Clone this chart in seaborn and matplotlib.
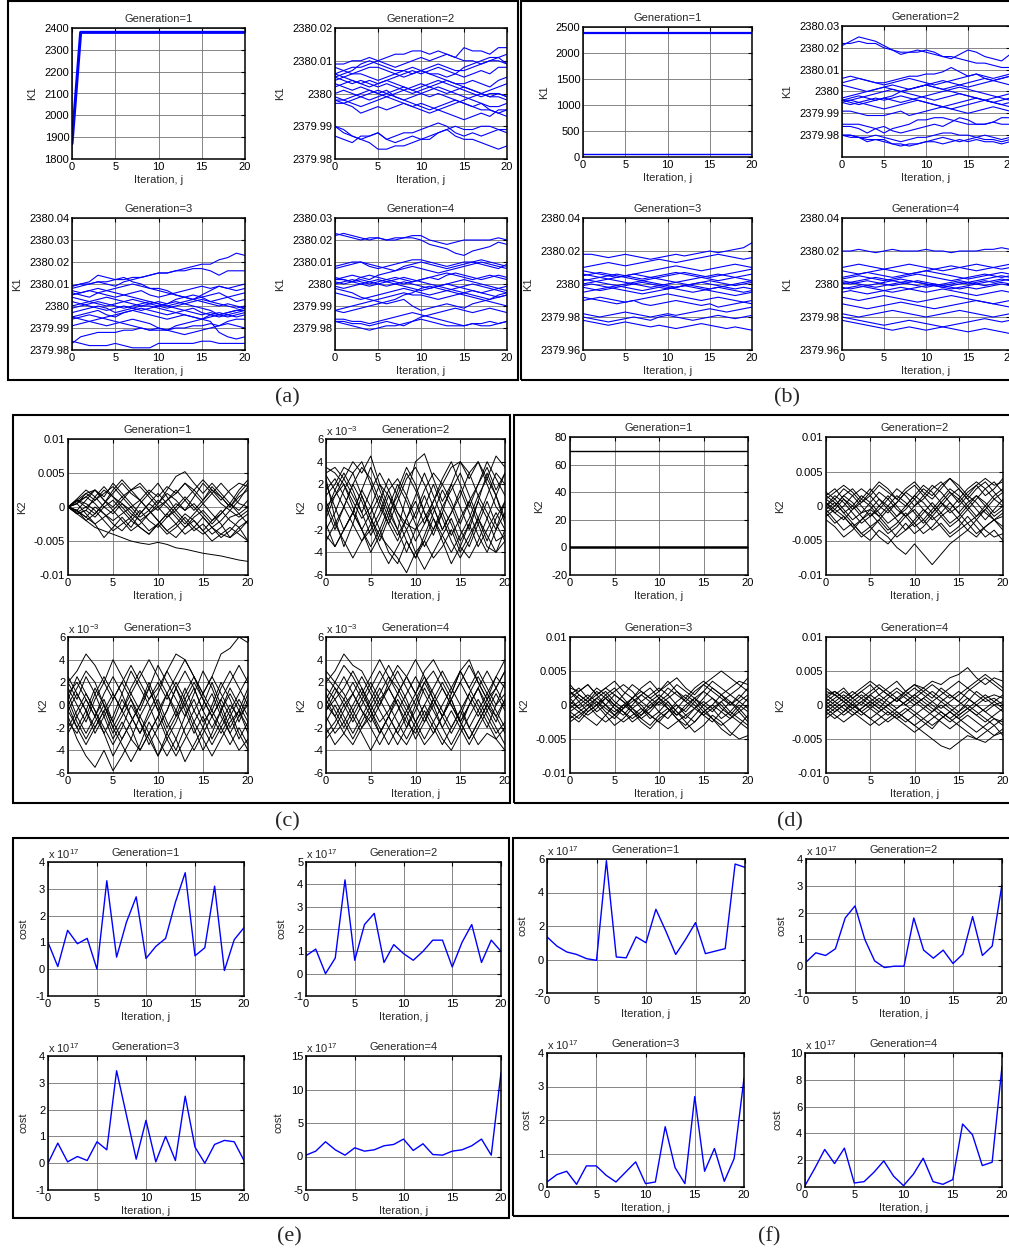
import matplotlib
matplotlib.use("Agg")
import matplotlib.pyplot as plt
from matplotlib.patches import Rectangle
import seaborn as sns
import pandas as pd

sns.set_theme(context="paper", style="white")
plt.rcParams["font.family"] = ["Liberation Sans", "DejaVu Sans"]
plt.rcParams["mathtext.fontset"] = "custom"
plt.rcParams["mathtext.rm"] = "Liberation Sans"
plt.rcParams["mathtext.default"] = "regular"
plt.rcParams["axes.unicode_minus"] = False

# ---------------- data ----------------
ITER = list(range(21))
XTICKS = [0, 5, 10, 15, 20]
TITLES = ["Generation=1", "Generation=2", "Generation=3", "Generation=4"]

# (a) K1, generation 1 (absolute values)
K1_A1 = [[1870, 2380, 2380, 2380, 2380, 2380, 2380, 2380, 2380, 2380, 2380,
          2380, 2380, 2380, 2380, 2380, 2380, 2380, 2380, 2380, 2380]]
# K1 offsets from 2380, in thousandths
K1_A2 = [
    [9, 9, 10, 10, 11, 10, 11, 12, 12, 13, 13, 12, 13, 12, 11, 14, 13, 13, 12, 14, 14],
    [6, 7, 8, 8, 9, 10, 9, 8, 9, 10, 11, 10, 11, 12, 11, 10, 10, 9, 10, 10, 9],
    [5, 6, 7, 9, 10, 9, 8, 7, 7, 6, 7, 6, 6, 5, 6, 8, 9, 10, 11, 11, 9],
    [6, 5, 4, 3, 4, 3, 4, 5, 6, 7, 6, 7, 8, 7, 6, 5, 6, 7, 6, 8, 8],
    [4, 5, 6, 7, 8, 8, 7, 6, 5, 6, 7, 6, 5, 4, 3, 3, 4, 3, 2, 4, 5],
    [5, 4, 3, 4, 3, 2, 3, 2, 1, 0, 1, 2, 1, 0, 1, 2, 1, 0, -1, 0, -1],
    [2, 3, 4, 3, 2, 3, 4, 3, 2, 1, 0, -1, 0, -1, -2, -3, -4, -3, -5, -6, -5],
    [3, 2, 1, 2, 1, 0, -1, 0, 1, 2, 3, 2, 3, 4, 3, 2, 1, 0, 1, 2, 3],
    [-2, -2, -3, -4, -3, -2, -1, -2, -3, -4, -3, -4, -5, -4, -3, -2, -1, 0, -1, -1, -2],
    [-2, -3, -4, -6, -5, -4, -5, -4, -3, -4, -5, -6, -5, -6, -7, -8, -7, -6, -7, -5, -5],
    [-3, -3, -2, -1, 0, 1, 0, -1, -2, -1, 0, 1, 2, 1, 0, -1, -2, -3, -4, -4, -3],
    [-10, -12, -13, -14, -15, -17, -17, -16, -16, -15, -14, -14, -12, -11, -13, -14, -14, -15, -16, -17, -16],
    [-13, -14, -15, -13, -13, -12, -14, -13, -12, -12, -11, -10, -9, -10, -12, -13, -12, -13, -12, -11, -11],
    [-10, -11, -13, -14, -13, -12, -14, -15, -14, -13, -14, -13, -12, -11, -10, -11, -11, -10, -10, -11, -12],
    [0, 1, 0, -1, -2, -1, 0, 1, 2, 1, 2, 3, 4, 3, 2, 1, 0, -1, 0, 0, -1],
    [8, 7, 6, 6, 5, 4, 5, 6, 7, 8, 7, 8, 9, 8, 7, 7, 8, 9, 10, 11, 12],
    [-1, -2, -1, 0, 1, 0, 1, -1, -2, -3, -4, -5, -4, -3, -2, -3, -4, -5, -5, -6, -7],
]
K1_A3 = [
    [9, 10, 10, 11, 11, 12, 12, 13, 13, 14, 15, 15, 16, 17, 18, 19, 19, 21, 22, 24, 23],
    [8, 9, 10, 11, 10, 9, 11, 12, 13, 14, 15, 15, 16, 16, 17, 17, 16, 14, 16, 16, 16],
    [9, 10, 11, 14, 13, 12, 13, 11, 10, 8, 8, 7, 5, 4, 3, 5, 7, 9, 8, 9, 10],
    [6, 5, 4, 6, 7, 8, 9, 10, 9, 8, 7, 6, 5, 4, 3, 4, 2, 3, 4, 2, 3],
    [5, 6, 7, 6, 5, 4, 5, 6, 7, 5, 4, 5, 6, 7, 8, 9, 8, 9, 8, 7, 8],
    [4, 3, 2, 1, 0, 1, 2, 3, 2, 1, 0, -1, 0, 1, 2, 3, 2, 1, 0, -1, 0],
    [2, 1, 0, -1, -2, -1, 0, -1, -2, -1, 0, 1, 2, 1, 0, -1, -2, -4, -3, -2, -1],
    [-1, 0, 1, 2, 1, 0, -1, 0, 1, 2, 1, 0, -1, -2, -3, -4, -3, -4, -5, -4, -3],
    [-3, -2, -1, 0, -1, -3, -2, -1, 0, 1, 2, 1, 3, 4, 5, 4, 5, 6, 4, 5, 6],
    [-5, -4, -3, -2, -4, -5, -3, -2, -1, -2, -3, -4, -3, -2, -1, -3, -4, -5, -4, -3, -2],
    [-6, -5, -4, -5, -6, -7, -8, -9, -10, -11, -10, -11, -9, -8, -7, -6, -5, -4, -3, -2, -2],
    [-5, -6, -7, -6, -5, -4, -3, -2, -3, -4, -5, -6, -5, -4, -5, -6, -4, -3, -4, -5, -4],
    [-17, -14, -13, -12, -12, -12, -11, -11, -10, -11, -11, -11, -10, -10, -9, -9, -8, -9, -7, -6, -6],
    [-16, -17, -18, -18, -18, -17, -18, -19, -19, -19, -17, -17, -17, -17, -17, -16, -16, -17, -17, -17, -17],
    [0, 1, 2, 3, 4, 3, 2, 1, 0, 0, -1, -2, -3, -4, -5, -6, -7, -12, -14, -15, -14],
    [7, 6, 7, 8, 7, 6, 5, 4, 3, 2, 1, 0, 1, 2, 3, 2, 1, 0, 1, 0, -1],
    [-9, -8, -7, -8, -9, -8, -7, -6, -7, -8, -10, -11, -12, -13, -12, -11, -10, -9, -8, -9, -10],
]
K1_A4 = [
    [22, 23, 22, 21, 20, 21, 20, 20, 21, 22, 22, 20, 19, 18, 19, 20, 20, 20, 20, 21, 20],
    [23, 22, 21, 20, 21, 21, 20, 21, 21, 21, 20, 18, 17, 16, 14, 13, 15, 16, 17, 19, 18],
    [8, 9, 10, 10, 8, 7, 8, 9, 10, 11, 11, 10, 9, 8, 9, 10, 10, 11, 10, 9, 8],
    [7, 8, 9, 10, 9, 8, 7, 6, 7, 8, 7, 6, 5, 6, 7, 8, 9, 10, 9, 8, 7],
    [2, 3, 4, 3, 2, 4, 5, 6, 8, 9, 10, 9, 8, 7, 8, 9, 10, 9, 8, 7, 9],
    [2, 2, 1, 3, 4, 3, 2, 1, 0, 1, 2, 3, 2, 4, 5, 4, 3, 2, 3, 4, 3],
    [1, 0, 1, 2, 1, 0, -1, 0, 1, 0, -1, -2, -1, 0, 1, 2, 1, 0, -1, -2, -3],
    [0, 1, 2, 1, 0, 1, 2, 3, 2, 1, 2, 3, 4, 5, 4, 3, 2, 3, 4, 3, 2],
    [-1, -2, -1, 0, 1, 2, 1, 0, -1, -2, -3, -2, -1, 0, -1, -2, -3, -4, -3, -2, -1],
    [-2, -3, -4, -6, -7, -8, -9, -8, -7, -10, -12, -11, -10, -9, -10, -11, -9, -8, -7, -6, -5],
    [-4, -5, -6, -7, -6, -5, -4, -3, -2, -3, -4, -5, -4, -3, -2, -1, 0, -1, -2, -3, -4],
    [-12, -13, -12, -11, -10, -9, -8, -7, -5, -4, -2, -1, -2, -3, -4, -5, -6, -7, -8, -9, -10],
    [-12, -11, -10, -9, -8, -7, -6, -5, -4, -5, -5, -6, -7, -6, -5, -4, -5, -6, -7, -5, -4],
    [-17, -17, -18, -18, -19, -18, -17, -18, -19, -17, -16, -17, -18, -19, -19, -19, -18, -18, -17, -18, -17],
    [-17, -18, -19, -20, -21, -20, -19, -19, -18, -17, -15, -14, -13, -12, -11, -12, -13, -12, -11, -12, -13],
    [-16, -16, -17, -17, -18, -17, -16, -15, -14, -13, -14, -15, -16, -17, -18, -19, -18, -19, -19, -18, -17],
    [3, 2, 1, 0, -1, 0, 1, 2, 3, 2, 1, 0, -1, -2, -3, -4, -3, -4, -5, -6, -5],
]
# (b) K1, generation 1 (absolute values)
K1_B1 = [
    [2385, 2385, 2385, 2385, 2385, 2385, 2385, 2385, 2385, 2385, 2385,
     2385, 2385, 2385, 2385, 2385, 2385, 2385, 2385, 2385, 2385],
    [50, 50, 50, 50, 50, 50, 50, 50, 50, 50, 50,
     50, 50, 50, 50, 50, 50, 50, 50, 50, 50],
]
K1_B2 = [
    [21, 23, 25, 24, 23, 21, 19, 17, 18, 18, 19, 18, 16, 15, 17, 19, 18, 16, 15, 14, 17],
    [22, 22, 23, 22, 22, 20, 19, 18, 18, 19, 18, 17, 16, 16, 15, 14, 13, 13, 12, 11, 11],
    [6, 7, 6, 5, 4, 4, 5, 6, 7, 7, 8, 8, 9, 11, 9, 7, 8, 6, 5, 6, 7],
    [4, 5, 6, 5, 4, 3, 4, 5, 6, 5, 4, 3, 4, 5, 6, 7, 8, 7, 6, 7, 8],
    [3, 2, 1, 0, 1, 2, 1, 0, 1, 2, 3, 2, 1, 2, 3, 4, 5, 6, 5, 6, 7],
    [-4, -3, -2, -3, -4, -3, -2, 0, 1, 2, 3, 2, 1, 0, -1, -2, -3, -4, -3, -2, -1],
    [-4, -5, -6, -5, -4, -3, -4, -5, -4, -3, -2, -1, 0, 1, 2, 1, 0, -1, -2, -3, -4],
    [-5, -4, -3, -2, -1, 0, 1, 0, -1, -2, -3, -4, -3, -2, -1, -2, -3, -4, -5, -6, -7],
    [-4, -4, -5, -6, -7, -8, -7, -6, -5, -4, -5, -6, -7, -6, -5, -4, -3, -4, -5, -6, -5],
    [-3, -2, -1, 0, 1, 2, 3, 2, 1, 2, 3, 4, 5, 4, 3, 2, 3, 4, 5, 4, 3],
    [-5, -6, -5, -4, -3, -4, -3, -2, -3, -4, -5, -6, -7, -8, -7, -6, -5, -4, -5, -4, -3],
    [-9, -9, -10, -11, -11, -11, -10, -9, -11, -10, -9, -8, -7, -8, -9, -10, -9, -8, -7, -8, -9],
    [-16, -16, -17, -19, -17, -16, -18, -19, -18, -17, -16, -15, -16, -14, -12, -13, -15, -15, -14, -12, -12],
    [-15, -15, -15, -16, -17, -19, -17, -16, -15, -13, -13, -12, -12, -13, -14, -15, -15, -15, -14, -15, -15],
    [-20, -20, -21, -22, -22, -23, -24, -24, -25, -24, -23, -22, -21, -22, -23, -22, -21, -20, -21, -22, -21],
    [-20, -21, -21, -23, -22, -22, -24, -25, -24, -24, -23, -23, -24, -23, -22, -23, -22, -23, -23, -24, -23],
    [-20, -20, -21, -21, -20, -21, -22, -23, -22, -21, -21, -20, -19, -19, -20, -20, -21, -22, -22, -23, -22],
]
K1_B3 = [
    [18, 18, 17, 16, 17, 18, 17, 16, 15, 16, 17, 18, 17, 18, 19, 20, 19, 20, 21, 22, 25],
    [10, 11, 12, 13, 12, 11, 12, 13, 14, 15, 14, 13, 14, 15, 16, 17, 18, 17, 16, 15, 16],
    [8, 7, 6, 5, 4, 5, 6, 7, 8, 9, 10, 11, 10, 9, 8, 9, 10, 11, 12, 11, 10],
    [5, 6, 7, 6, 5, 4, 3, 2, 3, 4, 5, 6, 7, 6, 5, 4, 5, 6, 7, 8, 9],
    [3, 2, 1, 0, -1, 0, 1, 2, 1, 0, -1, -2, -1, 0, 1, 2, 1, 0, -1, 0, 1],
    [0, 1, 2, 3, 2, 1, 0, -1, -2, -1, 0, 1, 0, -1, -2, -3, -2, -1, 0, 1, 2],
    [-2, -3, -4, -3, -2, -1, 0, 1, 0, -1, -2, -3, -4, -5, -4, -3, -2, -3, -4, -5, -4],
    [-5, -4, -3, -2, -3, -4, -5, -6, -5, -4, -3, -2, -1, -2, -3, -4, -5, -6, -7, -6, -5],
    [2, 3, 4, 5, 6, 5, 4, 3, 4, 5, 6, 7, 6, 5, 4, 3, 2, 3, 4, 5, 6],
    [-10, -9, -8, -9, -10, -11, -10, -9, -8, -7, -6, -7, -8, -9, -10, -9, -8, -9, -10, -11, -10],
    [-8, -9, -10, -11, -12, -11, -10, -12, -13, -12, -11, -10, -11, -12, -13, -12, -14, -13, -12, -11, -12],
    [-18, -19, -20, -19, -18, -17, -18, -19, -20, -19, -18, -19, -18, -17, -16, -15, -16, -17, -16, -15, -14],
    [-20, -21, -22, -23, -22, -21, -20, -21, -22, -20, -19, -20, -21, -22, -21, -20, -19, -20, -21, -20, -19],
    [-22, -23, -24, -25, -24, -23, -24, -25, -26, -25, -26, -27, -26, -25, -24, -25, -26, -27, -26, -27, -28],
    [6, 5, 4, 3, 4, 5, 6, 5, 4, 3, 2, 1, 2, 3, 4, 5, 6, 5, 4, 3, 2],
    [-1, 0, -1, -2, -1, -2, -3, -4, -3, -2, -3, -2, -1, 0, 1, 0, -1, -2, -3, -2, -3],
]
K1_B4 = [
    [20, 20, 21, 20, 19, 20, 21, 20, 20, 20, 21, 20, 20, 19, 20, 20, 20, 21, 21, 22, 21],
    [10, 11, 12, 11, 10, 9, 10, 11, 12, 11, 10, 9, 8, 9, 10, 11, 12, 11, 10, 9, 10],
    [8, 7, 6, 7, 8, 9, 8, 7, 6, 7, 8, 9, 10, 11, 10, 9, 8, 9, 10, 11, 12],
    [3, 4, 5, 4, 3, 2, 3, 4, 5, 6, 5, 4, 3, 2, 3, 4, 5, 6, 5, 4, 5],
    [1, 0, 1, 2, 1, 0, -1, 0, 1, 2, 1, 0, -1, 0, 1, 0, 1, 2, 1, 2, 3],
    [0, 1, 0, -1, -2, -1, 0, 1, 0, -1, -2, -1, 0, 1, 2, 1, 0, -1, 0, 1, 0],
    [-2, -3, -2, -1, 0, 1, 2, 3, 2, 1, 0, -1, -2, -3, -2, -1, 0, 1, 2, 3, 2],
    [-5, -4, -5, -6, -5, -4, -3, -2, -3, -4, -5, -4, -3, -4, -5, -6, -7, -6, -5, -4, -5],
    [-8, -9, -10, -9, -8, -7, -8, -9, -10, -11, -10, -9, -8, -7, -8, -9, -10, -11, -12, -11, -10],
    [-18, -19, -20, -19, -18, -17, -16, -17, -18, -19, -20, -19, -18, -17, -16, -17, -18, -19, -20, -19, -18],
    [-20, -21, -22, -23, -24, -25, -24, -23, -22, -23, -24, -25, -26, -25, -24, -23, -22, -21, -22, -23, -22],
    [-22, -23, -24, -25, -26, -27, -28, -27, -26, -27, -28, -27, -26, -27, -28, -29, -28, -27, -28, -29, -30],
    [4, 5, 6, 7, 6, 5, 4, 5, 6, 7, 8, 7, 6, 5, 4, 3, 4, 5, 6, 7, 6],
    [-3, -2, -1, -2, -3, -4, -5, -4, -3, -2, -1, 0, -1, -2, -3, -2, -3, -2, -1, 0, -1],
    [-12, -13, -14, -15, -14, -13, -12, -11, -12, -13, -14, -15, -14, -13, -12, -11, -10, -11, -12, -13, -14],
    [2, 1, 2, 3, 4, 3, 2, 1, 2, 1, 0, -1, -2, -1, 0, 1, 2, 3, 4, 5, 4],
]
# K2 values in units of 1e-4
K2_C1 = [
    [0, 10, 20, 25, 10, -5, 10, 25, 35, 20, 5, 25, 45, 52, 35, 20, 35, 20, 5, 25, 40],
    [0, -10, -5, 15, 30, 15, 0, -15, 5, 20, 35, 15, -5, 10, 25, 40, 25, 10, 25, 35, 30],
    [0, 5, -10, -25, -45, -30, -15, -30, -10, 5, 20, 5, -10, -25, -10, 5, -10, -25, -45, -35, -20],
    [0, -5, -20, -10, 5, 25, 40, 25, 10, -5, -20, -35, -25, -10, -20, -35, -20, -5, -20, -30, -50],
    [0, -10, -20, -30, -35, -40, -45, -50, -53, -55, -52, -55, -60, -62, -65, -68, -70, -72, -75, -78, -80],
    [0, 10, 5, -5, -20, -35, -25, -15, -30, -40, -25, -10, -25, -40, -30, -15, -30, -45, -35, -20, -10],
    [0, 8, 15, 25, 15, 35, 20, 5, -10, 5, -5, 10, 25, 10, -5, 10, 30, 15, 0, 15, 25],
    [0, -5, 10, 25, 10, 0, 15, 0, -15, -5, 10, 0, -15, -30, -15, -5, -20, -10, 5, -10, -25],
    [0, 5, 15, 5, -10, -20, -10, 0, 10, -5, -20, -35, -45, -30, -20, -35, -50, -40, -30, -40, -50],
    [0, -8, 0, 10, 20, 30, 15, 25, 30, 15, 0, 10, 20, 35, 20, 5, 20, 35, 20, 5, 0],
    [0, 12, 25, 15, 0, -10, 5, -5, -20, -35, -25, -10, 5, -5, 15, 35, 20, 5, -5, 10, 30],
    [0, -5, -15, 0, -10, -25, -35, -20, -5, -20, -30, -15, 0, 15, 0, -15, -30, -20, -5, -15, -5],
    [0, 5, 20, 10, 25, 15, 5, -10, -20, -10, 5, 20, 10, -5, 5, -10, -25, -10, 5, -5, 10],
    [0, -10, -5, -15, 0, 10, -5, -20, -30, -40, -25, -40, -30, -15, -30, -40, -30, -40, -45, -30, -20],
    [0, 10, 0, -10, 5, 20, 35, 20, 10, 25, 15, 30, 20, 35, 25, 10, 25, 15, 0, 20, 35],
    [0, -6, -15, -25, -15, -5, -20, -35, -25, -10, 0, -15, -5, -20, -35, -25, -40, -30, -15, -10, 0],
]
K2_C2 = [
    [30, 35, 25, 40, 30, 45, 20, 0, -20, 10, 40, 47, 25, 5, 20, 40, 30, 10, 25, 45, 35],
    [25, -10, -35, -15, 10, -10, -30, -10, 15, 35, 20, -5, -25, -5, 20, 0, -20, 5, 30, 10, -15],
    [-25, -35, -20, -5, 15, 0, -20, -40, -50, -30, -45, -30, -10, -30, -50, -35, -15, -35, -20, -5, -20],
    [10, 20, 35, 30, 10, -10, -25, -35, -45, -58, -40, -30, -45, -35, -20, -40, -25, -10, -25, -40, -30],
    [0, -20, 0, 20, 5, -15, 5, 25, 10, -10, -30, -15, 5, 25, 40, 20, 0, 20, 35, 15, 30],
    [-20, -5, 15, 30, 40, 20, 0, -15, -30, -10, 10, 30, 10, -10, -30, -45, -30, -10, 10, 30, 20],
    [20, 0, -20, -5, 15, 35, 15, -5, 10, 30, 15, -5, -20, 0, 15, 30, 10, -10, -30, -10, 5],
    [-5, 15, 30, 15, -5, -25, -10, 10, -10, -30, -45, -25, -5, 15, 0, -20, -35, -15, 5, -15, -30],
    [35, 30, 20, 5, -10, 0, 20, 10, -5, -15, -20, -10, 5, 20, 35, 40, 25, 40, 20, 0, -10],
    [5, -15, -30, -45, -30, -15, -35, -50, -35, -20, -40, -55, -40, -25, -10, -30, -15, 5, -10, -30, -25],
    [-10, 10, 25, 10, -5, 15, 30, 15, -5, -20, -5, 15, 30, 20, 5, -15, 5, 20, 40, 25, 10],
    [15, 25, 10, -5, -20, -5, 10, -10, -25, -10, 5, -15, 0, -20, -5, 15, -5, -25, -40, -20, -5],
    [-30, -15, 0, -15, -30, -20, -5, 15, 25, 10, -10, 10, -10, -25, -40, -25, -10, 10, -5, -20, 5],
    [0, 10, 20, 0, -20, -40, -25, -5, -20, -40, -20, 0, 20, 0, -15, -35, -45, -30, -10, 10, 30],
    [28, 15, 0, 20, 35, 25, 5, -15, 5, 25, 35, 20, 0, -20, -5, 10, 30, 40, 25, 10, -10],
    [-15, -35, -20, -5, -20, -35, -20, 0, 20, 5, -15, -35, -20, -5, -25, -10, 5, -15, -35, -40, -20],
]
K2_C3 = [
    [20, 30, 45, 35, 20, 5, 20, 35, 20, 5, 15, 30, 45, 40, 25, 10, 25, 45, 50, 60, 55],
    [-10, -30, -45, -55, -40, -58, -45, -30, -40, -25, -10, -30, -45, -30, -15, -30, -45, -30, -15, -5, -20],
    [10, -10, -25, -10, 10, 25, 10, -10, -25, -10, 5, -15, -30, -10, 10, 30, 15, -5, -25, -10, 10],
    [0, 15, 30, 20, 0, -20, -5, 15, 30, 15, -5, 10, 25, 40, 25, 5, -10, 5, 20, 35, 20],
    [-20, -5, 10, -5, -20, -35, -20, 0, -15, -30, -45, -30, -15, 5, 20, 5, -10, -25, -10, 5, -10],
    [5, -15, -30, -15, 0, -20, -35, -50, -35, -15, -30, -45, -30, -50, -35, -20, -35, -20, -5, -25, -40],
    [15, 0, -15, 5, 20, 40, 25, 10, -5, 15, 35, 20, 5, -10, 5, -15, -5, 15, 30, 15, 0],
    [-5, 10, -5, -20, -5, 10, -5, -20, -40, -25, -10, 10, -5, -25, -40, -25, -10, 5, -10, -30, -15],
    [25, 10, -5, -25, -10, 5, 20, 5, -10, -25, -45, -25, -10, 10, 25, 10, -5, -20, -35, -20, -35],
    [-15, -25, -10, 10, 25, 10, -5, 10, 25, 40, 25, 10, -10, 0, 15, -5, -20, -5, 15, 0, -15],
    [0, -20, -35, -20, -5, -25, -10, 5, -15, -35, -20, -5, 15, 0, -20, -40, -25, -5, 10, -5, -25],
    [10, 20, 5, -10, 5, -15, -30, -15, 0, 20, 0, -20, -5, 15, -5, -20, 0, 20, 5, -15, 5],
    [-25, -10, 5, -10, -25, -45, -30, -15, 0, 15, -5, -25, -40, -20, -5, 10, 25, 10, -5, 10, 25],
    [5, 25, 10, -5, -25, -10, 10, 30, 15, 0, -20, -5, 15, 30, 15, -5, 10, -10, -25, -40, -30],
    [-5, -20, -5, 15, 0, -15, 5, -10, -25, -5, 10, 30, 15, -5, -25, -10, -30, -15, 0, -10, 0],
    [20, 5, 25, 10, -10, -30, -15, -30, -10, 5, 20, 5, 20, 5, -15, 0, 20, 0, -20, -5, 15],
]
K2_C4 = [
    [20, 30, 45, 35, 30, 15, 0, 20, 35, 25, 10, 30, 40, 25, 10, 30, 40, 20, 5, 25, 40],
    [-10, -25, -15, 0, 15, -5, -25, -10, 5, -10, -30, -15, 5, 20, 5, -15, 0, 15, -5, -20, -35],
    [5, 20, 35, 25, 10, -5, 10, 25, 15, 0, -15, 0, 15, 30, 15, 0, -20, -5, 10, 25, 15],
    [-20, -35, -25, -10, -25, -40, -25, -10, -25, -35, -20, -5, -20, -35, -20, -5, -20, -35, -25, -30, -40],
    [0, -10, 5, 20, 5, -10, -25, -10, 10, 25, 10, -10, -25, -10, 5, 20, 5, -10, 5, 15, 0],
    [15, 5, -10, -25, -10, 5, 20, 35, 20, 5, -15, -30, -15, 0, 15, 30, 15, 30, 15, 0, 10],
    [-5, 10, 25, 10, -5, -20, -35, -20, -5, 10, 25, 10, -5, -20, -5, -20, -35, -20, -5, 10, -5],
    [25, 15, 5, -10, 5, 20, 5, -10, -25, -10, 5, 20, 30, 15, 0, -15, 0, 15, 30, 15, 30],
    [-15, 0, -15, -30, -15, 0, 15, 0, -15, -30, -15, 0, -15, -30, -40, -25, -10, 5, -10, -25, -15],
    [10, -5, -20, -5, 10, 25, 40, 25, 10, -5, 10, 25, 10, -5, -20, -5, 10, -5, -20, 0, 20],
    [-25, -15, 0, 10, -5, -15, 0, 15, 0, -15, -25, -10, 5, -10, -25, -10, 10, 25, 10, -5, -20],
    [5, -10, -25, -35, -20, -5, -20, -35, -20, -5, -20, -35, -25, -10, 5, -15, -30, -15, 0, -15, 5],
    [-5, 5, 15, 30, 15, 0, -15, -5, 10, 25, 40, 25, 5, -10, 5, 20, 35, 20, 5, -10, -25],
    [30, 20, 10, -5, -20, -10, 5, 15, 30, 15, 0, -15, 0, 15, 0, -15, -30, -15, 0, 15, 30],
    [0, 15, 0, -15, 0, 15, 30, 15, 0, -20, 0, 20, 5, -10, 10, 30, 15, 0, -15, -30, -20],
    [-30, -20, -5, 10, 25, 10, -5, -20, -35, -20, -5, 15, 0, -20, -35, -20, 0, 15, 0, -10, 5],
]
# (d) K2 generation 1 (absolute values)
K2_D1 = [
    [70, 70, 70, 70, 70, 70, 70, 70, 70, 70, 70, 70, 70, 70, 70, 70, 70, 70, 70, 70, 70],
    [0, 0, 0, 0, 0, 0, 0, 0, 0, 0, 0, 0, 0, 0, 0, 0, 0, 0, 0, 0, 0],
]
K2_D2 = [
    [10, 20, 30, 20, 5, 15, 30, 20, 10, 25, 35, 20, 10, 25, 40, 30, 15, 30, 40, 30, 35],
    [-5, -20, -35, -25, -40, -50, -35, -45, -60, -70, -55, -70, -85, -70, -55, -45, -35, -45, -30, -20, -30],
    [15, 5, -10, 0, 15, 5, -10, -25, -15, 0, 15, 5, -10, 5, 20, 10, -5, 10, 25, 35, 20],
    [0, 10, -5, -20, -10, 5, 20, 10, -5, -15, 0, 15, 30, 20, 5, -10, 5, 15, 0, -15, -5],
    [-10, -25, -15, -30, -45, -35, -20, -35, -25, -10, -25, -40, -30, -15, -30, -20, -5, -20, -35, -45, -40],
    [20, 10, 25, 15, 0, -15, -5, 10, 25, 15, 0, 10, 25, 35, 20, 5, 20, 30, 15, 25, 40],
    [-15, -5, 10, 0, -15, -30, -20, -5, -20, -35, -25, -10, 5, -10, -25, -15, 0, 15, 5, -10, 0],
    [5, -10, -20, -5, 10, 25, 10, -5, 5, 20, 10, -5, -15, 0, 15, 25, 10, -5, -20, -5, 10],
    [-20, -30, -45, -35, -20, -10, -25, -40, -30, -15, -5, -20, -35, -25, -40, -30, -15, -30, -45, -35, -50],
    [10, 0, 15, 25, 10, 0, -15, 0, 15, 5, -10, -25, -10, 5, -5, -20, -35, -20, -5, 10, 0],
    [0, 15, 5, -10, -25, -15, 0, 15, 0, -15, -30, -20, -5, 10, 25, 15, 0, -15, 0, 15, 25],
    [-5, 5, -10, -25, -40, -30, -45, -55, -40, -25, -40, -30, -15, -30, -45, -35, -25, -40, -30, -20, -10],
    [15, 25, 10, -5, 5, 20, 35, 25, 10, 0, 15, 30, 20, 5, -10, 0, 15, 5, -10, -20, -15],
    [-10, 0, 15, 5, -10, -5, 10, 0, -15, -5, 10, 25, 15, 30, 40, 25, 10, 25, 35, 20, 5],
    [5, -5, -15, -30, -20, -5, -15, -30, -45, -35, -20, -5, -20, -10, 5, -10, -25, -15, -5, -20, -35],
    [0, -10, 0, 15, 25, 15, 0, -10, 5, 20, 30, 15, 0, -15, -5, 10, 25, 35, 25, 10, 20],
]
K2_D3 = [
    [25, 20, 30, 15, 25, 35, 20, 10, 25, 35, 20, 30, 40, 25, 15, 30, 40, 50, 40, 30, 20],
    [10, -5, 5, 20, 10, -5, -15, 0, 15, 5, -10, -20, -5, 10, 0, -15, -25, -10, 5, -5, -20],
    [-15, -25, -10, 0, -15, -30, -20, -5, -20, -30, -15, -5, -20, -35, -25, -10, -20, -35, -45, -30, -15],
    [20, 10, 0, 10, 20, 5, -5, 10, 20, 10, 0, 10, 20, 5, -5, 10, 25, 15, 0, 10, 25],
    [0, 15, 5, -10, 0, 15, 5, -10, -20, -10, 5, -5, -20, -30, -15, 0, 10, 0, -15, -25, -35],
    [-5, 5, 15, 5, -10, -20, -5, 10, 0, -15, -25, -10, 5, 15, 5, -10, 0, 15, 25, 35, 30],
    [15, 25, 10, 0, 15, 25, 10, -5, 5, 15, 25, 15, 0, -10, 5, 20, 10, -5, -15, 0, -10],
    [-20, -10, 0, -15, -25, -15, 0, 10, -5, -20, -10, 5, -10, -25, -40, -30, -15, -25, -40, -50, -45],
    [5, -5, -15, -5, 10, 20, 30, 20, 5, -5, 10, 25, 15, 5, 20, 30, 20, 10, 0, 15, 5],
    [-10, 0, 10, 25, 15, 0, -10, -20, -10, 5, 15, 5, -10, -20, -5, 5, -5, -20, -10, 5, -5],
    [30, 15, 5, 15, 25, 15, 5, -5, -15, -5, 5, 15, 30, 20, 10, 0, -10, 5, 15, 5, 15],
    [0, -10, -20, -30, -15, 0, -10, -25, -15, 0, 10, 0, -15, -5, 10, 20, 35, 25, 15, 25, 40],
    [10, 20, 30, 15, 0, -15, -5, 5, 15, 25, 10, -5, -15, 0, 10, -5, -20, -30, -20, -5, 10],
    [-25, -15, -5, 5, -5, -15, -25, -15, -5, -15, -25, -35, -25, -15, -5, -15, -5, 5, -10, -20, -30],
    [20, 5, -10, 0, 10, 0, 15, 30, 20, 10, 20, 35, 20, 10, 25, 35, 25, 15, 5, -10, 0],
    [-10, -20, -5, 10, 0, -10, 0, -10, -25, -35, -20, -10, 0, -15, -25, -10, 0, -10, -20, -10, -25],
]
K2_D4 = [
    [20, 15, 25, 10, 20, 30, 15, 25, 35, 20, 30, 25, 35, 30, 40, 45, 55, 40, 30, 40, 35],
    [-5, 5, 15, 5, -10, 0, 10, 0, -10, -20, -30, -40, -50, -60, -65, -55, -45, -50, -55, -45, -35],
    [10, 0, -10, 5, 15, 5, -5, 10, 20, 10, 0, 10, 20, 10, 0, -10, 5, 20, 10, 0, -10],
    [0, 10, 20, 10, 0, 15, 25, 15, 5, 20, 30, 20, 10, 25, 15, 5, 20, 30, 40, 30, 20],
    [-15, -5, 5, -5, -15, -5, 5, -5, -15, -25, -15, -5, -15, -25, -35, -25, -15, -25, -35, -45, -40],
    [15, 20, 10, 0, 10, 20, 30, 20, 10, 0, 10, 0, -10, 5, 15, 5, -5, -15, -5, 5, 15],
    [5, -5, -15, -5, 5, -5, -15, -25, -15, -5, -15, -25, -35, -20, -10, -20, -30, -40, -30, -20, -25],
    [-10, -20, -10, 0, -10, -20, -10, 0, 10, 0, -10, -20, -30, -20, -10, 0, 10, 0, -10, -20, -30],
    [25, 15, 5, 15, 25, 35, 25, 15, 5, 15, 25, 15, 5, -5, 5, 15, 25, 35, 45, 35, 25],
    [0, -10, 0, 10, 20, 10, 0, -10, -20, -10, 0, 10, 0, -10, -20, -10, 0, -10, -20, -30, -20],
    [-20, -10, 0, -10, -20, -30, -20, -10, -20, -30, -40, -30, -20, -10, -20, -30, -40, -50, -40, -30, -45],
    [10, 20, 10, 20, 10, 0, -10, 0, 10, 20, 10, 20, 30, 20, 10, 20, 10, 0, -10, 0, 5],
    [-5, -15, -25, -15, -5, 5, 15, 5, -5, 5, 15, 25, 15, 5, -5, -15, -5, 5, 15, 5, -5],
    [15, 5, -5, -15, -5, 5, -5, -15, -5, 5, 15, 5, -5, -15, -25, -15, -5, -15, -25, -15, -5],
    [5, 15, 5, -5, 5, 15, 5, 15, 25, 15, 5, -5, 5, 15, 25, 35, 25, 15, 5, 10, 0],
    [-10, 0, 10, 0, -10, -20, -30, -20, -10, -20, -30, -20, -10, 0, -10, -20, -10, 0, 10, 15, 10],
]
# cost, in units of 1e17
COST_E = [
    [1.0, 0.1, 1.45, 0.95, 1.15, 0.0, 3.3, 0.45, 1.75, 2.7, 0.4, 0.85, 1.15, 2.5, 3.6, 0.5, 0.8, 3.1, -0.05, 1.1, 1.55],
    [0.8, 1.1, 0.0, 0.7, 4.2, 0.6, 2.2, 2.7, 0.5, 1.3, 0.9, 0.6, 1.0, 1.5, 1.5, 0.3, 1.4, 2.2, 0.5, 1.5, 1.0],
    [0.0, 0.75, 0.05, 0.25, 0.1, 0.8, 0.5, 3.45, 1.8, 0.15, 1.6, 0.05, 1.0, 0.1, 2.5, 0.6, 0.0, 0.7, 0.85, 0.8, 0.1],
    [0.2, 0.8, 2.2, 1.0, 0.2, 1.3, 0.8, 1.0, 1.6, 1.8, 2.6, 0.9, 1.9, 0.3, 0.2, 0.8, 1.0, 1.6, 2.6, 0.2, 12.5],
]
COST_F = [
    [1.35, 0.8, 0.45, 0.3, 0.05, -0.05, 5.9, 0.15, 0.1, 1.35, 1.0, 3.0, 1.7, 0.3, 1.2, 2.2, 0.35, 0.5, 0.65, 5.7, 5.5],
    [0.15, 0.5, 0.4, 0.65, 1.8, 2.25, 1.0, 0.2, -0.05, 0.0, 0.0, 1.8, 0.6, 0.3, 0.6, 0.1, 0.45, 1.85, 0.4, 0.75, 3.05],
    [0.15, 0.37, 0.47, 0.08, 0.63, 0.63, 0.35, 0.15, 0.45, 0.75, 0.1, 0.15, 1.8, 0.58, 0.1, 2.7, 0.47, 1.15, 0.17, 0.85, 3.25],
    [0.1, 1.4, 2.8, 1.75, 2.9, 0.3, 0.4, 1.1, 1.95, 0.8, 0.1, 0.95, 2.15, 0.4, 0.2, 0.55, 4.7, 3.9, 1.6, 1.85, 9.0],
]

# tick labels
K1_T2 = ["2379.98", "2379.99", "2380", "2380.01", "2380.02"]
K1_T3 = ["2379.98", "2379.99", "2380", "2380.01", "2380.02", "2380.03", "2380.04"]
K1_T4 = ["2379.98", "2379.99", "2380", "2380.01", "2380.02", "2380.03"]
K1_TB = ["2379.96", "2379.98", "2380", "2380.02", "2380.04"]
K2_T1 = ["-0.01", "-0.005", "0", "0.005", "0.01"]
K2_TM = ["-6", "-4", "-2", "0", "2", "4", "6"]

# ---------------- figure ----------------
W, H = 1009, 1249
fig = plt.figure(figsize=(W / 100, H / 100), dpi=100)
fig.patch.set_facecolor("white")


def long_df(lines, scale=1.0, base=0.0):
    rows = []
    for i, ln in enumerate(lines):
        for j, v in zip(ITER, ln):
            rows.append((i, j, base + v * scale))
    return pd.DataFrame(rows, columns=["line", "j", "value"])


def make_ax(l, t, r, b):
    return fig.add_axes([l / W, 1 - b / H, (r - l) / W, (b - t) / H])


def style(ax, title, ylabel, ylim, yticks, ylabels, mult=None):
    ax.set_xlim(0, 20)
    ax.set_xticks(XTICKS)
    ax.set_xticklabels([str(x) for x in XTICKS])
    ax.set_ylim(*ylim)
    ax.set_yticks(yticks)
    ax.set_yticklabels(ylabels)
    ax.grid(True, color="0.45", lw=0.6)
    ax.set_axisbelow(True)
    for s in ax.spines.values():
        s.set_visible(True)
        s.set_color("black")
        s.set_linewidth(1.1)
    ax.tick_params(direction="in", length=3, width=0.8, top=True, right=True,
                   labelsize=8, pad=2, colors="black")
    ax.set_title(title, fontsize=8, pad=4)
    ax.set_xlabel("Iteration, j", fontsize=8, labelpad=2)
    ax.set_ylabel(ylabel, fontsize=8, labelpad=5)
    if mult:
        ax.text(0.0, 1.01, mult, transform=ax.transAxes, ha="left",
                va="bottom", fontsize=8)


def draw(ax, lines, color, lw, scale=1.0, base=0.0):
    df = long_df(lines, scale, base)
    sns.lineplot(data=df, x="j", y="value", units="line", estimator=None,
                 color=color, lw=lw, ax=ax, legend=False)


BLUE = "#0000ff"
K1_TICK2 = [2379.98, 2379.99, 2380.0, 2380.01, 2380.02]
K1_TICK3 = [2379.98, 2379.99, 2380.0, 2380.01, 2380.02, 2380.03, 2380.04]
K1_TICK4 = [2379.98, 2379.99, 2380.0, 2380.01, 2380.02, 2380.03]
K1_TICKB = [2379.96, 2379.98, 2380.0, 2380.02, 2380.04]
K2_TICK1 = [-0.01, -0.005, 0.0, 0.005, 0.01]
K2_TICKM = [-6e-3, -4e-3, -2e-3, 0.0, 2e-3, 4e-3, 6e-3]

# ---- (a)
ax = make_ax(72, 28, 245, 159)
draw(ax, K1_A1, BLUE, 2.2)
style(ax, TITLES[0], "K1", (1800, 2400), list(range(1800, 2401, 100)),
      [str(v) for v in range(1800, 2401, 100)])
ax = make_ax(335, 28, 507, 159)
draw(ax, K1_A2, BLUE, 0.8, 1e-3, 2380)
style(ax, TITLES[1], "K1", (2379.98, 2380.02), K1_TICK2, K1_T2)
ax = make_ax(72, 218, 245, 350)
draw(ax, K1_A3, BLUE, 0.8, 1e-3, 2380)
style(ax, TITLES[2], "K1", (2379.98, 2380.04), K1_TICK3, K1_T3)
ax = make_ax(335, 218, 507, 350)
draw(ax, K1_A4, BLUE, 0.8, 1e-3, 2380)
style(ax, TITLES[3], "K1", (2379.97, 2380.03), K1_TICK4, K1_T4)

# ---- (b)
ax = make_ax(583, 27, 752, 157)
draw(ax, K1_B1[:1], BLUE, 1.6)
draw(ax, K1_B1[1:], BLUE, 1.0)
style(ax, TITLES[0], "K1", (0, 2500), list(range(0, 2501, 500)),
      [str(v) for v in range(0, 2501, 500)])
ax = make_ax(842, 26, 1010, 157)
draw(ax, K1_B2, BLUE, 0.8, 1e-3, 2380)
style(ax, TITLES[1], "K1", (2379.97, 2380.03), K1_TICK4, K1_T4)
ax = make_ax(583, 218, 752, 350)
draw(ax, K1_B3, BLUE, 0.8, 1e-3, 2380)
style(ax, TITLES[2], "K1", (2379.96, 2380.04), K1_TICKB, K1_TB)
ax = make_ax(842, 218, 1010, 350)
draw(ax, K1_B4, BLUE, 0.8, 1e-3, 2380)
style(ax, TITLES[3], "K1", (2379.96, 2380.04), K1_TICKB, K1_TB)

# ---- (c)
ax = make_ax(68, 439, 248, 575)
draw(ax, K2_C1, "black", 0.7, 1e-4)
style(ax, TITLES[0], "K2", (-0.01, 0.01), K2_TICK1, K2_T1)
for (pos, data, ttl) in [((326, 439, 505, 575), K2_C2, TITLES[1]),
                         ((68, 637, 248, 773), K2_C3, TITLES[2]),
                         ((326, 637, 505, 773), K2_C4, TITLES[3])]:
    ax = make_ax(*pos)
    draw(ax, data, "black", 0.7, 1e-4)
    style(ax, ttl, "K2", (-6e-3, 6e-3), K2_TICKM, K2_TM, mult=r"x 10$^{-3}$")

# ---- (d)
ax = make_ax(570, 437, 748, 575)
draw(ax, K2_D1[:1], "black", 1.0)
draw(ax, K2_D1[1:], "black", 1.8)
style(ax, TITLES[0], "K2", (-20, 80), list(range(-20, 81, 20)),
      [str(v) for v in range(-20, 81, 20)])
for (pos, data, ttl) in [((826, 437, 1003, 575), K2_D2, TITLES[1]),
                         ((570, 637, 748, 773), K2_D3, TITLES[2]),
                         ((826, 637, 1003, 773), K2_D4, TITLES[3])]:
    ax = make_ax(*pos)
    draw(ax, data, "black", 0.7, 1e-4)
    style(ax, ttl, "K2", (-0.01, 0.01), K2_TICK1, K2_T1)

# ---- (e) and (f) cost
COST_LIMS_E = [(-1, 4, 1), (-1, 5, 1), (-1, 4, 1), (-5, 15, 5)]
COST_LIMS_F = [(-2, 6, 2), (-1, 4, 1), (0, 4, 1), (0, 10, 2)]
POS_E = [(48, 862, 244, 996), (306, 862, 501, 996), (48, 1056, 244, 1190), (306, 1056, 501, 1190)]
POS_F = [(547, 859, 745, 993), (806, 859, 1002, 993), (547, 1053, 744, 1187), (805, 1053, 1002, 1187)]
for data_set, lims_set, pos_set in [(COST_E, COST_LIMS_E, POS_E), (COST_F, COST_LIMS_F, POS_F)]:
    for k in range(4):
        ax = make_ax(*pos_set[k])
        draw(ax, [data_set[k]], BLUE, 1.0, 1e17)
        lo, hi, st = lims_set[k]
        ticks = list(range(lo, hi + 1, st))
        style(ax, TITLES[k], "cost", (lo * 1e17, hi * 1e17), [t * 1e17 for t in ticks],
              [str(t) for t in ticks], mult=r"x 10$^{17}$")

# ---- panel frames and letters
FRAMES = [(8, 1, 518, 380), (521, 1, 1012, 380), (13, 415, 510, 803),
          (514, 415, 1012, 803), (13, 838, 509, 1218), (513, 838, 1012, 1216)]
for (x0, y0, x1, y1) in FRAMES:
    fig.add_artist(Rectangle((x0 / W, 1 - y1 / H), (x1 - x0) / W, (y1 - y0) / H,
                             fill=False, lw=1.5, edgecolor="black",
                             transform=fig.transFigure))

LETTERS = [("(a)", 287, 398), ("(b)", 787, 398), ("(c)", 287, 822),
           ("(d)", 790, 822), ("(e)", 289, 1237), ("(f)", 769, 1237)]
for txt, x, y in LETTERS:
    fig.text(x / W, 1 - y / H, txt, ha="center", va="center", fontsize=16,
             family=["Liberation Serif", "DejaVu Serif"])

fig.savefig("out.png", dpi=100, facecolor="white")
